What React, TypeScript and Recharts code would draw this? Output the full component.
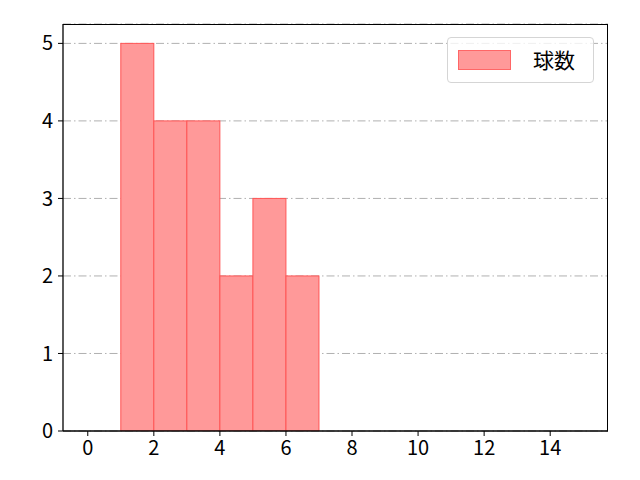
import React from 'react';
import {
  ComposedChart,
  Bar,
  XAxis,
  YAxis,
  CartesianGrid,
} from 'recharts';

// histogram bins (left edge, right edge) and counts
const binStarts = [1, 2, 3, 4, 5, 6];
const binEnds = [2, 3, 4, 5, 6, 7];
const counts = [5, 4, 4, 2, 3, 2];
const xTicks = [0, 2, 4, 6, 8, 10, 12, 14];
const yTicks = [0, 1, 2, 3, 4, 5];
const seriesName = '球数';

const data = binStarts.map((s, i) => ({
  x: (s + binEnds[i]) / 2,
  start: s,
  end: binEnds[i],
  count: counts[i],
}));

const FONT = '"Noto Sans CJK JP", "Noto Sans", sans-serif';

const HistBar = (props: any) => {
  const { x, y, width, height } = props;
  if (height <= 0) return null;
  return (
    <rect
      x={x}
      y={y}
      width={width}
      height={height}
      fill="#ff9999"
      stroke="#ff5555"
      strokeWidth={1}
    />
  );
};

const LegendBox = () => (
  <div
    style={{
      position: 'absolute',
      left: 447,
      top: 37,
      width: 147,
      height: 46,
      border: '1px solid #d5d5d5',
      borderRadius: 4,
      background: 'rgba(255,255,255,0.8)',
      boxSizing: 'border-box',
      fontFamily: FONT,
    }}
  >
    <div
      style={{
        position: 'absolute',
        left: 10,
        top: 12,
        width: 53,
        height: 20,
        background: '#ff9999',
        border: '1px solid #ff6666',
        boxSizing: 'border-box',
      }}
    />
    <div
      style={{
        position: 'absolute',
        left: 85,
        top: 5,
        fontSize: 21,
        lineHeight: '32px',
        color: '#000',
      }}
    >
      {seriesName}
    </div>
  </div>
);

const App: React.FC = () => {
  return (
    <div style={{ position: 'absolute', left: 0, top: 0, width: 640, height: 480, background: '#fff' }}>
      <ComposedChart
        width={640}
        height={480}
        data={data}
        margin={{ top: 24, right: 32, bottom: 0, left: 0 }}
      >
        <CartesianGrid
          horizontal
          vertical={false}
          stroke="#b0b0b0"
          strokeDasharray="8 3 1.5 3"
          strokeWidth={1}
          horizontalPoints={undefined}
        />
        <XAxis
          dataKey="x"
          type="number"
          domain={[-0.75, 15.75]}
          ticks={xTicks}
          allowDataOverflow
          height={49}
          stroke="#000"
          strokeWidth={1.3}
          tickSize={5}
          tickLine={{ stroke: '#000', strokeWidth: 1 }}
          tick={{ fill: '#000', fontSize: 20, fontFamily: FONT, dy: 3 }}
        />
        <YAxis
          type="number"
          domain={[0, 5.25]}
          ticks={yTicks}
          allowDataOverflow
          width={63}
          stroke="#000"
          strokeWidth={1.3}
          tickSize={5}
          tickLine={{ stroke: '#000', strokeWidth: 1 }}
          tick={{ fill: '#000', fontSize: 20, fontFamily: FONT, dx: -3 }}
        />
        <Bar
          dataKey="count"
          name={seriesName}
          barSize={33}
          shape={HistBar}
          isAnimationActive={false}
        />
      </ComposedChart>
      {/* plot frame (top and right spines) */}
      <div
        style={{
          position: 'absolute',
          left: 63,
          top: 24,
          width: 545,
          height: 407,
          borderTop: '1.3px solid #000',
          borderRight: '1.3px solid #000',
          boxSizing: 'border-box',
          pointerEvents: 'none',
        }}
      />
      <LegendBox />
    </div>
  );
};

export default App;
